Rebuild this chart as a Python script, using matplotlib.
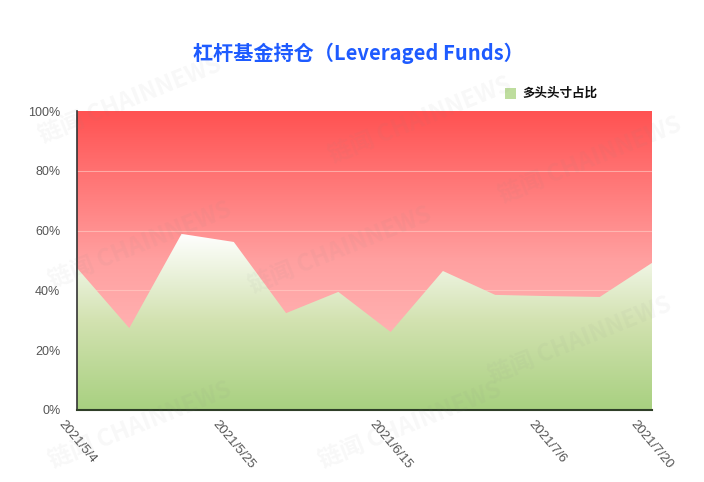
import numpy as np
import matplotlib
matplotlib.use("Agg")
import matplotlib.pyplot as plt
from matplotlib.colors import LinearSegmentedColormap

plt.rcParams['font.family'] = ['Liberation Sans', 'Noto Sans CJK SC', 'DejaVu Sans']

# ---- data ----
dates = ['2021/5/4', '2021/5/11', '2021/5/18', '2021/5/25', '2021/6/1', '2021/6/8',
         '2021/6/15', '2021/6/22', '2021/6/29', '2021/7/6', '2021/7/13', '2021/7/20']
long_pct = [47.5, 27.4, 58.9, 56.2, 32.4, 39.5, 26.1, 46.5, 38.5, 38.1, 37.8, 49.2]
shown_ticks = ['2021/5/4', '2021/5/25', '2021/6/15', '2021/7/6', '2021/7/20']
y_ticks = [0, 20, 40, 60, 80, 100]
title = '杠杆基金持仓（Leveraged Funds）'
legend_label = '多头头寸占比'

fig = plt.figure(figsize=(7.04, 4.82), dpi=100)
ax = fig.add_axes([77/704, 1-410/482, 575/704, 299/482])

x = np.arange(len(dates))
xmin, xmax = x[0], x[-1]

# red gradient background (whole plot)
red_cmap = LinearSegmentedColormap.from_list('r', ['#FFC4C4', '#FFA0A0', '#FF5252'])
grad = np.linspace(0, 1, 256).reshape(-1, 1)
ax.imshow(grad, aspect='auto', cmap=red_cmap, origin='lower',
          extent=[xmin, xmax, 0, 100], zorder=0)

# grid lines
for yv in y_ticks[1:-1]:
    ax.axhline(yv, color='#FFD0C8', lw=0.8, alpha=0.6, zorder=1)

# green gradient area
poly = ax.fill_between(x, 0, long_pct, color='none', lw=0, zorder=2)
green_cmap = LinearSegmentedColormap.from_list('g', ['#A8D080', '#D2E2B0', '#FFFFFF'])
gimg = ax.imshow(grad, aspect='auto', cmap=green_cmap, origin='lower',
                 extent=[xmin, xmax, 0, max(long_pct)], zorder=2)
gimg.set_clip_path(poly.get_paths()[0], transform=ax.transData)

ax.set_xlim(xmin, xmax)
ax.set_ylim(0, 100)

ax.set_yticks(y_ticks)
ax.set_yticklabels([f'{v}%' for v in y_ticks], fontsize=9, color='#555555')
tick_pos = [dates.index(d) for d in shown_ticks]
ax.set_xticks(tick_pos)
ax.set_xticklabels(shown_ticks, fontsize=9.5, color='#555555', rotation=-50,
                   ha='center', va='top')
ax.tick_params(axis='x', length=0, pad=6)
ax.tick_params(axis='y', length=0, pad=12)

for s in ['top', 'right']:
    ax.spines[s].set_visible(False)
ax.spines['left'].set_color('#333333')
ax.spines['left'].set_linewidth(1.2)
ax.spines['bottom'].set_color('#2F3F28')
ax.spines['bottom'].set_linewidth(1.5)
ax.spines['left'].set_zorder(5)
ax.spines['bottom'].set_zorder(5)

# title
fig.text(358/704, 1-53/482, title, fontsize=14.5, fontweight='bold', color='#1E5BFF',
         ha='center', va='center', family=['Noto Sans CJK SC', 'DejaVu Sans'])

# legend
fig.patches.append(plt.Rectangle((505/704, 1-99/482), 11/704, 11/482,
                                 transform=fig.transFigure, facecolor='#BEDD9E',
                                 edgecolor='none'))
fig.text(522/704, 1-93.5/482, legend_label, fontsize=9, fontweight='bold', color='#111111',
         ha='left', va='center', family=['Noto Sans CJK SC', 'DejaVu Sans'])

# faint watermarks
for (wx, wy) in [(130, 100), (420, 120), (590, 160), (140, 245), (340, 250),
                 (140, 425), (410, 425), (580, 340)]:
    fig.text(wx/704, 1-wy/482, '链闻 CHAINNEWS', fontsize=17, fontweight='bold',
             color='#888888', alpha=0.06, rotation=22, ha='center', va='center',
             family=['Noto Sans CJK SC', 'DejaVu Sans'], zorder=10)

fig.savefig('out.png', dpi=100, facecolor='white')
